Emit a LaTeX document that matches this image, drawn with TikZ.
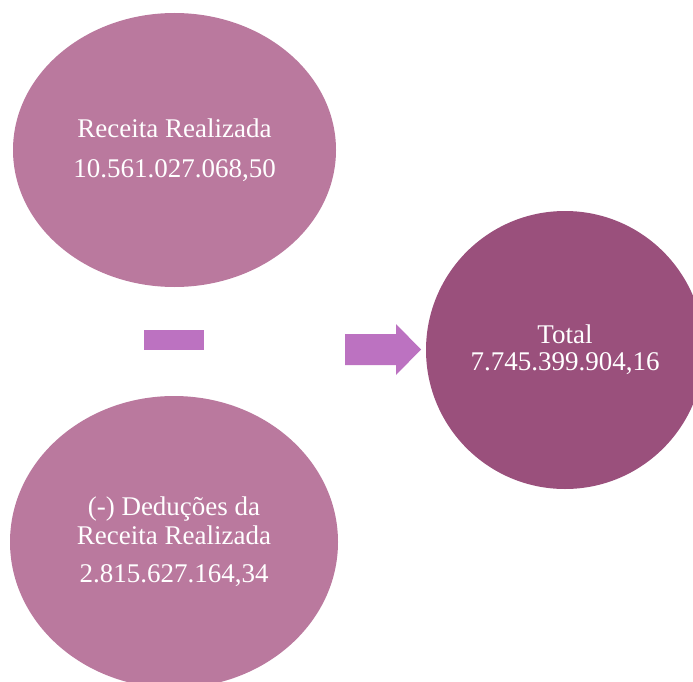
\documentclass[tikz,border=0pt]{standalone}
\usepackage{fontspec}
\setmainfont{Liberation Serif}
\usetikzlibrary{shapes.geometric}
\definecolor{mauve}{RGB}{186,121,158}
\definecolor{plum}{RGB}{154,80,124}
\definecolor{orchid}{RGB}{188,114,193}
\begin{document}
\begin{tikzpicture}[x=1pt,y=-1pt,every node/.style={ellipse,fill=mauve,text=white,inner sep=0pt,align=center,font=\fontsize{27}{28.5}\selectfont}]
	\useasboundingbox (0,0) rectangle (693,682);
	\clip (0,0) rectangle (693,682);

	\node[minimum width=323pt,minimum height=274pt] (rec) at (174.5,150) {Receita Realizada\\[11pt]10.561.027.068,50};
	\node[minimum width=328pt,minimum height=292pt] (ded) at (174,542) {(-) Deduções da\\Receita Realizada\\[10pt]2.815.627.164,34};
	\node[circle,fill=plum,minimum size=278pt,font=\fontsize{27}{27}\selectfont] (tot) at (565,350) {Total\\7.745.399.904,16};

	\node[rectangle,fill=orchid,minimum width=60pt,minimum height=20pt] (menos) at (174,340) {};
	\fill[orchid] (345,334) -- (396,334) -- (396,324) -- (421,349.5) -- (396,375) -- (396,365) -- (345,365) -- cycle;
\end{tikzpicture}
\end{document}
